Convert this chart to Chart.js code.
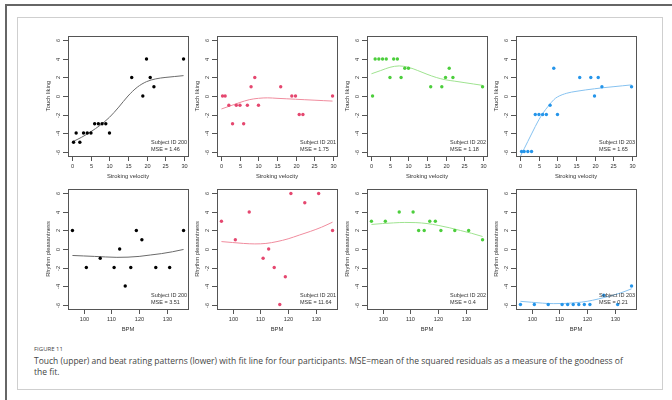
<!DOCTYPE html>
<html><head><meta charset="utf-8">
<script src="https://cdn.jsdelivr.net/npm/chart.js@4/dist/chart.umd.min.js"></script>
<style>
html,body{margin:0;padding:0;background:#fff;width:672px;height:400px;overflow:hidden;}
#frame{position:absolute;left:5px;top:4px;width:700px;height:420px;border-left:2px solid #666;border-top:2px solid #666;}
#card{position:absolute;left:17px;top:17px;width:644px;height:371px;border:1px solid #cfcfcf;}
canvas{position:absolute;}
.cap{position:absolute;left:34px;font-family:"Open Sans",sans-serif;color:#444;white-space:nowrap;line-height:11px;}
#fig{top:344px;font-size:6px;}
#c1{top:355px;font-size:8.5px;}
#c2{top:366px;font-size:8.5px;}
</style></head>
<body>
<div id="frame"></div>
<div id="card"></div>
<div class="cap" id="fig">FIGURE 11</div>
<div class="cap" id="c1">Touch (upper) and beat rating patterns (lower) with fit line for four participants. MSE=mean of the squared residuals as a measure of the goodness of</div>
<div class="cap" id="c2">the fit.</div>
<script>
// ---- data ----
const touchX = [0.3,1,2,3,4,5,6,7,8,9,10,16,19,20,21,22,30];
const touch200 = [-5,-4,-5,-4,-4,-4,-3,-3,-3,-3,-4,2,0,4,2,1,4];
const touch201 = [0,0,-1,-3,-1,-1,-3,-1,1,2,-1,1,0,0,-2,-2,0];
const touch202 = [0,4,4,4,4,2,4,4,2,3,3,1,1,2,3,2,1];
const touch203 = [-6,-6,-6,-6,-2,-2,-2,-2,-1,3,-2,2,2,0,2,1,1];

const bpmX = [96,101,106,111,113,115,117,119,121,126,131,136];
const rhythm200 = [2,-2,-1,-2,0,-4,-2,2,1,-2,-2,2];
const rhythm201 = [3,1,4,-1,0,-2,-6,-3,6,5,6,2];
const rhythm202 = [3,3,4,4,2,2,3,3,2,2,2,1];
const rhythm203 = [-6,-6,-6,-6,-6,-6,-6,-6,-6,-5,-6,-4];

const fitTouchX = [0,2.5,5,7.5,10,12.5,15,17.5,20,22.5,25,27.5,30];
const fitTouch200 = [-4.95,-4.45,-3.85,-3.15,-2.3,-1.2,0.0,0.95,1.55,1.85,2.0,2.1,2.2];
const fitTouch201 = [-1.4,-1.05,-0.7,-0.4,-0.25,-0.2,-0.25,-0.3,-0.35,-0.4,-0.45,-0.5,-0.55];
const fitTouch202 = [2.4,2.75,3.1,3.25,3.1,2.75,2.35,2.0,1.75,1.6,1.45,1.3,1.15];
const fitTouchX203 = [0,1,2,3,4,5,6,7.5,9,10,12.5,15,17.5,20,22.5,25,27.5,30];
const fitTouch203 = [-6.5,-5.7,-4.9,-4.1,-3.3,-2.55,-1.9,-1.1,-0.4,-0.1,0.3,0.5,0.65,0.78,0.9,1.0,1.1,1.2];

const fitBpmX = [96,100,104,108,112,116,120,124,128,132,136];
const fitRhythm200 = [-0.7,-0.75,-0.8,-0.86,-0.9,-0.88,-0.8,-0.65,-0.5,-0.3,-0.05];
const fitRhythm201 = [0.8,0.7,0.6,0.55,0.6,0.8,1.1,1.5,1.9,2.35,2.9];
const fitRhythm202 = [2.65,2.75,2.82,2.87,2.85,2.75,2.55,2.3,2.0,1.7,1.35];
const fitRhythm203 = [-5.65,-5.75,-5.85,-5.9,-5.88,-5.8,-5.65,-5.4,-5.1,-4.75,-4.3];

const subjects = ["200","201","202","203"];
const mseTouch = ["1.46","1.75","1.18","1.65"];
const mseRhythm = ["3.51","11.64","0.4","0.21"];

const yTicks = [-6,-4,-2,0,2,4,6];
const touchTicks = [0,5,10,15,20,25,30];
const bpmTicks = [100,110,120,130];

const dotColors = ["#000000","#e5476f","#4cce3c","#2595ea"];
const lineColors = ["#6a6a6a","#f08c9e","#9fe390","#86c2f0"];

// ---- layout ----
const boxLefts = [68,217,367,516];
const boxTops = [36,189];
const BOX = 120, PADL = 35, PADT = 5, PADR = 5, PADB = 30;
const FONT = '"Liberation Sans", Arial, sans-serif';
const TXT = '#333';

function pts(xs, ys){ return xs.map((x,i)=>({x:x,y:ys[i]})); }

const framePlugin = {
  id:'rframe',
  afterDatasetsDraw(chart){
    const o = chart.options.plugins.rframe;
    const ctx = chart.ctx, a = chart.chartArea;
    const xs = chart.scales.x, ys = chart.scales.y;
    ctx.save();
    ctx.strokeStyle = '#555'; ctx.lineWidth = 1;
    ctx.strokeRect(Math.round(a.left)+0.5, Math.round(a.top)+0.5, Math.round(a.right-a.left), Math.round(a.bottom-a.top));
    ctx.fillStyle = TXT;
    ctx.font = '5.6px ' + FONT;
    ctx.textAlign = 'center'; ctx.textBaseline = 'middle';
    o.yTicks.forEach(v=>{
      const py = Math.round(ys.getPixelForValue(v))+0.5;
      ctx.beginPath(); ctx.moveTo(a.left-5, py); ctx.lineTo(a.left, py); ctx.stroke();
      ctx.save(); ctx.translate(a.left-10, py); ctx.rotate(-Math.PI/2);
      ctx.fillText(String(v), 0, 0); ctx.restore();
    });
    o.xTicks.forEach(v=>{
      const px = Math.round(xs.getPixelForValue(v))+0.5;
      ctx.beginPath(); ctx.moveTo(px, a.bottom); ctx.lineTo(px, a.bottom+5); ctx.stroke();
      ctx.fillText(String(v), px, a.bottom+10);
    });
    ctx.font = '5.8px ' + FONT;
    ctx.fillText(o.xTitle, (a.left+a.right)/2, a.bottom+20);
    ctx.save(); ctx.translate(a.left-20, (a.top+a.bottom)/2); ctx.rotate(-Math.PI/2);
    ctx.fillText(o.yTitle, 0, 0); ctx.restore();
    ctx.font = '5.5px ' + FONT;
    ctx.textAlign = 'left';
    ctx.fillText('Subject ID ' + o.subject, a.right-37, a.bottom-13.3);
    ctx.fillText('MSE = ' + o.mse, a.right-37, a.bottom-6.7);
    ctx.restore();
  }
};

function makePanel(col, row){
  const cv = document.createElement('canvas');
  const w = PADL+BOX+PADR, h = PADT+BOX+PADB;
  cv.width = w; cv.height = h;
  cv.style.left = (boxLefts[col]-PADL)+'px';
  cv.style.top = (boxTops[row]-PADT)+'px';
  cv.style.width = w+'px'; cv.style.height = h+'px';
  document.body.appendChild(cv);
  const touch = row===0;
  const sx = touch ? touchX : bpmX;
  const sy = touch ? [touch200,touch201,touch202,touch203][col] : [rhythm200,rhythm201,rhythm202,rhythm203][col];
  const fx = touch ? (col===3 ? fitTouchX203 : fitTouchX) : fitBpmX;
  const fy = touch ? [fitTouch200,fitTouch201,fitTouch202,fitTouch203][col] : [fitRhythm200,fitRhythm201,fitRhythm202,fitRhythm203][col];
  const xmin = touch ? -1.2 : 94.4, xmax = touch ? 31.2 : 137.6;
  new Chart(cv, {
    type:'scatter',
    data:{datasets:[
      {data:pts(fx,fy), showLine:true, borderColor:lineColors[col], borderWidth:1, pointRadius:0, cubicInterpolationMode:'monotone', clip:0, order:2},
      {data:pts(sx,sy), backgroundColor:dotColors[col], borderWidth:0, pointRadius:1.7, order:1}
    ]},
    options:{
      responsive:false, animation:false, events:[], devicePixelRatio:1,
      layout:{padding:{left:0,top:PADT,right:PADR,bottom:0}, autoPadding:false},
      plugins:{legend:{display:false}, tooltip:{enabled:false},
        rframe:{yTicks:yTicks, xTicks: touch?touchTicks:bpmTicks,
          xTitle: touch?'Stroking velocity':'BPM', yTitle: touch?'Touch liking':'Rhythm pleasantness',
          subject: subjects[col], mse: touch?mseTouch[col]:mseRhythm[col]}},
      scales:{
        x:{type:'linear', min:xmin, max:xmax, grid:{display:false}, border:{display:false}, ticks:{display:false}, afterFit:s=>{s.height=PADB;}},
        y:{type:'linear', min:-6.48, max:6.48, grid:{display:false}, border:{display:false}, ticks:{display:false}, afterFit:s=>{s.width=PADL;}}
      }
    },
    plugins:[framePlugin]
  });
}
for(let r=0;r<2;r++) for(let c=0;c<4;c++) makePanel(c,r);
</script>
</body></html>
